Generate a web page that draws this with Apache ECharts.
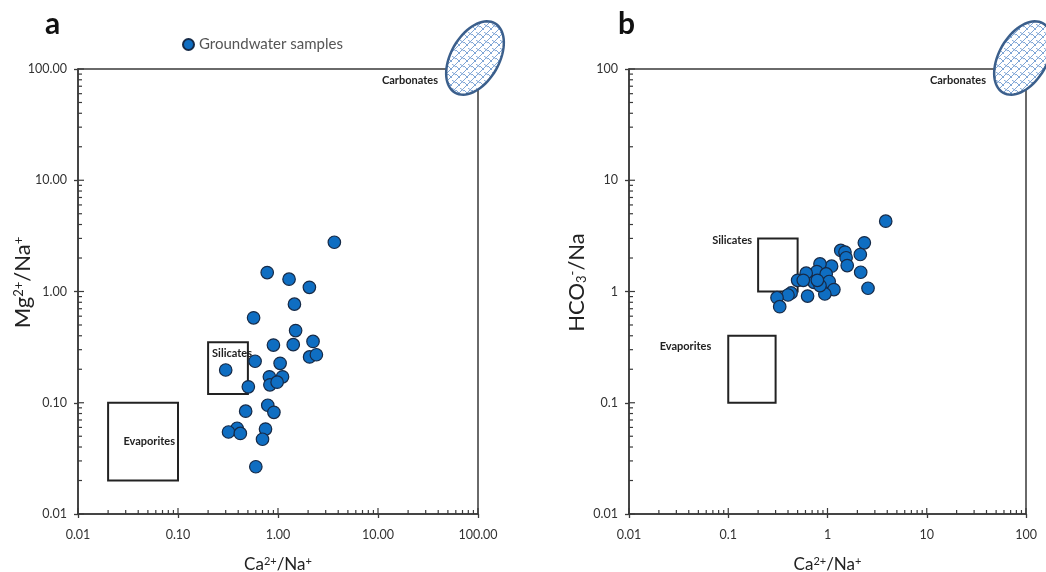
<!DOCTYPE html>
<html>
<head>
<meta charset="utf-8">
<script src="https://cdn.jsdelivr.net/npm/echarts@6/dist/echarts.min.js"></script>
<style>html,body{margin:0;padding:0;background:#fff}#c{width:1046px;height:572px}</style>
</head>
<body>
<div id="c"></div>
<script>
// Panel a: Ca2+/Na+ vs Mg2+/Na+
const caNaA = [3.66,0.78,1.29,2.06,1.46,0.57,1.50,0.90,1.42,2.24,2.07,2.42,0.59,0.30,1.05,0.82,0.83,1.11,0.98,0.505,0.475,0.79,0.91,0.39,0.32,0.42,0.75,0.70,0.60];
const mgNaA = [2.77,1.48,1.29,1.09,0.77,0.58,0.445,0.33,0.333,0.356,0.258,0.27,0.236,0.197,0.226,0.171,0.145,0.171,0.153,0.139,0.084,0.095,0.082,0.059,0.0546,0.053,0.058,0.047,0.0266];
// Panel b: Ca2+/Na+ vs HCO3-/Na
const caNaB = [3.86,2.35,2.14,1.36,1.50,1.54,1.58,2.16,2.56,1.10,0.84,0.78,0.97,0.61,0.73,0.89,1.04,1.16,0.94,0.63,0.50,0.57,0.43,0.40,0.31,0.33,0.84,0.79];
const hco3NaB = [4.29,2.74,2.15,2.34,2.26,2.01,1.71,1.49,1.07,1.69,1.77,1.51,1.44,1.46,1.21,1.16,1.23,1.04,0.95,0.91,1.26,1.26,0.97,0.93,0.88,0.73,1.13,1.26];
// Reference fields [xmin, ymin, xmax, ymax]
const silicatesA = [0.2, 0.12, 0.5, 0.35];
const evaporitesA = [0.02, 0.02, 0.1, 0.1];
const silicatesB = [0.2, 1, 0.5, 3];
const evaporitesB = [0.1, 0.1, 0.3, 0.4];
// Tick labels
const tickLabelsA = ['0.01','0.10','1.00','10.00','100.00'];
const tickLabelsB = ['0.01','0.1','1','10','100'];
const legendName = 'Groundwater samples';

const FONT = 'Lato, "Open Sans", sans-serif';
const chart = echarts.init(document.getElementById('c'), null, {renderer: 'canvas'});

// hatch pattern for carbonates ellipse
const pc = document.createElement('canvas');
pc.width = 8; pc.height = 8;
const g = pc.getContext('2d');
g.fillStyle = '#ffffff'; g.fillRect(0,0,8,8);
g.strokeStyle = '#7fa6d6'; g.lineWidth = 1;
g.beginPath();
g.moveTo(0,8); g.lineTo(8,0);
g.moveTo(-4,4); g.lineTo(4,-4);
g.moveTo(4,12); g.lineTo(12,4);
g.moveTo(0,2); g.lineTo(4,6);
g.moveTo(4,0); g.lineTo(8,3);
g.stroke();

function labelFmt(arr){ return function(v){ const i = Math.round(Math.log10(v)) + 2; return arr[i] !== undefined ? arr[i] : ''; }; }

const richName = {
  n: {fontFamily: FONT, fontSize: 17, color: '#222'},
  s: {fontFamily: FONT, fontSize: 11, color: '#222', verticalAlign: 'top', padding: [0,0,6,0]}
};
const richNameY = {
  n: {fontFamily: FONT, fontSize: 22, color: '#222'},
  s: {fontFamily: FONT, fontSize: 13, color: '#222', verticalAlign: 'top', padding: [0,0,8,0]},
  b: {fontFamily: FONT, fontSize: 13, color: '#222', verticalAlign: 'bottom', padding: [8,0,0,0]}
};

function makeAxes(gi, labels, yName, yGap){
  const common = {
    type: 'log', logBase: 10, min: 0.01, max: 100, splitNumber: 4, gridIndex: gi,
    nameMoveOverlap: false,
    axisLine: {show: true, lineStyle: {color: '#3a3a3a', width: 1.5}},
    axisTick: {show: true, inside: false, length: 4, lineStyle: {color: '#3a3a3a', width: 1.3}},
    splitLine: {show: false},
    axisLabel: {color: '#333', fontSize: 12.5, fontFamily: FONT, formatter: labelFmt(labels)}
  };
  const x = Object.assign({}, common, {
    name: '{n|Ca}{s|2+}{n|/Na}{s|+}', nameLocation: 'middle', nameGap: 42,
    axisLabel: Object.assign({}, common.axisLabel, {margin: 14}),
    nameTextStyle: {rich: richName}
  });
  const y = Object.assign({}, common, {
    name: yName, nameLocation: 'middle', nameGap: yGap,
    axisLabel: Object.assign({}, common.axisLabel, {margin: 11}),
    nameTextStyle: {rich: richNameY, padding: [0, 0, 0, 18]}
  });
  return {x, y};
}

const axA = makeAxes(0, tickLabelsA, '{n|Mg}{s|2+}{n|/Na}{s|+}', 44);
const axB = makeAxes(1, tickLabelsB, '{n|HCO}{b|3}{s|-}{n|/Na}', 41);

// tick decoration positions (2..9 per decade minor, decades major)
const tickVals = [];
for (let e = -2; e < 2; e++) {
  for (let m = 1; m <= 9; m++) tickVals.push(m * Math.pow(10, e));
}
tickVals.push(100);

function isMajor(v){ const l = Math.log10(v); return Math.abs(l - Math.round(l)) < 1e-6; }

function tickSeries(i){
  return {
    type: 'custom', xAxisIndex: i, yAxisIndex: i, silent: true, clip: false, z: 6,
    data: [[0.01, 0.01]],
    renderItem: function(params, api){
      const children = [];
      tickVals.forEach(function(v){
        const len = isMajor(v) ? 6 : 4;
        const px = api.coord([v, 0.01]);
        children.push({type: 'line', shape: {x1: px[0], y1: px[1], x2: px[0], y2: px[1] - len}, style: {stroke: '#3a3a3a', lineWidth: 1.2}});
        const py = api.coord([0.01, v]);
        children.push({type: 'line', shape: {x1: py[0], y1: py[1], x2: py[0] + len, y2: py[1]}, style: {stroke: '#3a3a3a', lineWidth: 1.2}});
      });
      return {type: 'group', children: children};
    }
  };
}

function ellipseSeries(i){
  return {
    type: 'custom', xAxisIndex: i, yAxisIndex: i, silent: true, clip: false, z: 7,
    data: [[100, 100]],
    renderItem: function(params, api){
      const p = api.coord([api.value(0), api.value(1)]);
      const cx = p[0] - 3, cy = p[1] - 11;
      const a = 40, b = 24, th = 60 * Math.PI / 180;
      const pts = [];
      for (let k = 0; k < 72; k++) {
        const t = k / 72 * Math.PI * 2;
        const ex = a * Math.cos(t), ey = b * Math.sin(t);
        pts.push([cx + ex * Math.cos(th) - ey * Math.sin(th), cy - (ex * Math.sin(th) + ey * Math.cos(th))]);
      }
      return {type: 'group', children: [
        {type: 'polygon', shape: {points: pts}, style: {fill: {image: pc, repeat: 'repeat'}, stroke: '#3b5f8c', lineWidth: 2.5}},
        {type: 'text', style: {text: 'Carbonates', x: p[0] - 40, y: p[1] + 11, align: 'right', verticalAlign: 'middle', font: 'bold 11px ' + FONT, fill: '#222'}}
      ]};
    }
  };
}

function box(r, label){
  return [{coord: [r[0], r[1]], label: label}, {coord: [r[2], r[3]]}];
}

const boxStyle = {color: 'rgba(255,255,255,0)', borderColor: '#222', borderWidth: 2};
const boxLabel = {fontFamily: FONT, fontWeight: 'bold', fontSize: 11, color: '#222'};

const scatterStyle = {color: '#0f6ec2', borderColor: '#162a47', borderWidth: 1.2, opacity: 1};

const gridCommon = {show: true, borderColor: '#3a3a3a', borderWidth: 1.5, backgroundColor: 'transparent', containLabel: false, outerBoundsMode: 'none'};

chart.setOption({
  animation: false,
  backgroundColor: '#fff',
  title: [
    {text: 'a', left: 40, top: 4, textStyle: {fontFamily: FONT, fontSize: 30, fontWeight: 'bold', color: '#111'}},
    {text: 'b', left: 613, top: 4, textStyle: {fontFamily: FONT, fontSize: 30, fontWeight: 'bold', color: '#111'}}
  ],
  legend: {
    data: [legendName], left: 177, top: 32, itemWidth: 11, itemHeight: 11, itemGap: 5,
    icon: 'circle', textStyle: {fontFamily: FONT, fontSize: 15, color: '#555'}
  },
  grid: [
    Object.assign({left: 78, top: 69, width: 400, height: 445}, gridCommon),
    Object.assign({left: 629, top: 69, width: 397, height: 445}, gridCommon)
  ],
  xAxis: [axA.x, axB.x],
  yAxis: [axA.y, axB.y],
  series: [
    {
      name: legendName, type: 'scatter', xAxisIndex: 0, yAxisIndex: 0, symbolSize: 12.5, z: 4,
      itemStyle: scatterStyle,
      data: caNaA.map((v, i) => [v, mgNaA[i]]),
      markArea: {
        silent: true, itemStyle: boxStyle, label: boxLabel,
        data: [
          box(silicatesA, {show: true, formatter: 'Silicates', position: [5, 7], align: 'left', verticalAlign: 'top'}),
          box(evaporitesA, {show: true, formatter: 'Evaporites', position: 'insideRight', distance: 4})
        ]
      }
    },
    {
      name: legendName, type: 'scatter', xAxisIndex: 1, yAxisIndex: 1, symbolSize: 12.5, z: 4,
      itemStyle: scatterStyle,
      data: caNaB.map((v, i) => [v, hco3NaB[i]]),
      markArea: {
        silent: true, itemStyle: boxStyle, label: boxLabel,
        data: [
          box(silicatesB, {show: true, formatter: 'Silicates', position: [-5, -2], align: 'right', verticalAlign: 'top'}),
          box(evaporitesB, {show: true, formatter: 'Evaporites', position: [-16, 6], align: 'right', verticalAlign: 'top'})
        ]
      }
    },
    tickSeries(0), tickSeries(1), ellipseSeries(0), ellipseSeries(1)
  ]
});
</script>
</body>
</html>
